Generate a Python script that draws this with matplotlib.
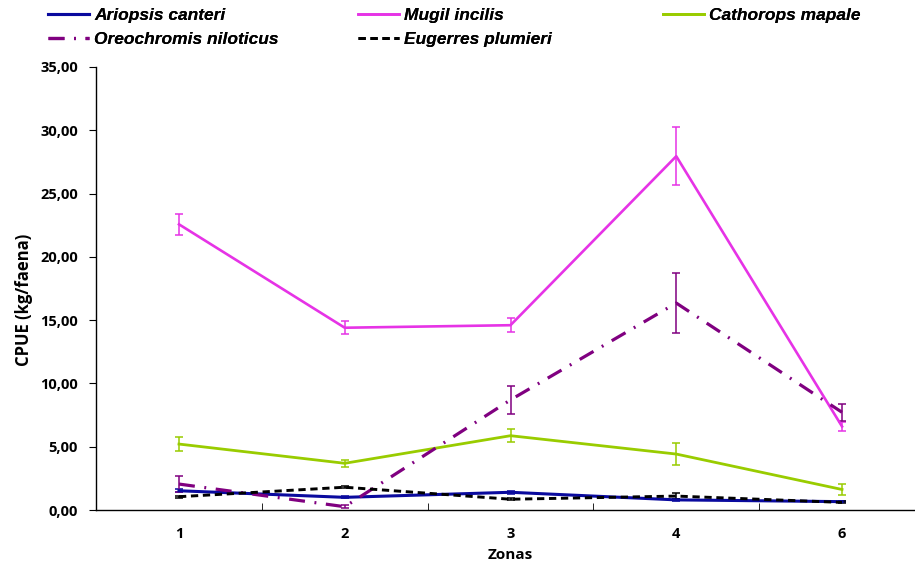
import matplotlib
matplotlib.use("Agg")
import matplotlib.pyplot as plt
from matplotlib.lines import Line2D
from matplotlib.ticker import FuncFormatter, MultipleLocator

zonas = ["1", "2", "3", "4", "6"]

ariopsis = [1.52, 1.00, 1.40, 0.80, 0.66]
ariopsis_err = [0.10, 0.08, 0.10, 0.08, 0.06]
mugil = [22.57, 14.40, 14.60, 27.95, 6.60]
mugil_err = [0.83, 0.50, 0.57, 2.30, 0.35]
cathorops = [5.21, 3.69, 5.87, 4.42, 1.62]
cathorops_err = [0.55, 0.27, 0.50, 0.85, 0.45]
oreochromis = [2.05, 0.26, 8.70, 16.35, 7.72]
oreochromis_err = [0.62, 0.10, 1.08, 2.40, 0.65]
eugerres = [1.05, 1.80, 0.85, 1.10, 0.60]
eugerres_err = [0.08, 0.10, 0.08, 0.27, 0.08]

names = ["Ariopsis canteri", "Mugil incilis", "Cathorops mapale",
         "Oreochromis niloticus", "Eugerres plumieri"]

fig = plt.figure(figsize=(9.15, 5.63), dpi=100)
ax = fig.add_axes([96.1 / 915, 53 / 563, 828.8 / 915, 443 / 563])

x = list(range(len(zonas)))

styles = [
    dict(color="#0A0A9E", lw=2.2, ls="-"),
    dict(color="#E633E6", lw=1.9, ls="-"),
    dict(color="#99CC00", lw=2.0, ls="-"),
    dict(color="#800080", lw=2.3, ls=(0, (5, 3, 0.6, 3))),
    dict(color="#000000", lw=2.1, ls=(0, (2.5, 1.6))),
]
series = [(ariopsis, ariopsis_err), (mugil, mugil_err), (cathorops, cathorops_err),
          (oreochromis, oreochromis_err), (eugerres, eugerres_err)]

handles = []
for (vals, errs), st, nm in zip(series, styles, names):
    ax.errorbar(x, vals, yerr=errs, color=st["color"], lw=st["lw"], ls=st["ls"],
                elinewidth=1.1, capsize=2.6, capthick=1.1)
    handles.append(Line2D([], [], color=st["color"], lw=st["lw"], ls=st["ls"]))

ax.set_xlim(-0.5, len(zonas) - 0.5)
ax.set_ylim(0, 35)
ax.set_xticks(x)
ax.set_xticklabels(zonas)
ax.set_xticks([i + 0.5 for i in x], minor=True)
ax.tick_params(axis="x", which="major", length=0, pad=12)
ax.tick_params(axis="x", which="minor", length=5, direction="in")
ax.yaxis.set_major_locator(MultipleLocator(5))
ax.yaxis.set_major_formatter(FuncFormatter(lambda v, p: f"{v:.2f}".replace(".", ",")))
ax.tick_params(axis="y", length=5, direction="out", pad=8)
for lab in ax.get_xticklabels() + ax.get_yticklabels():
    lab.set_fontfamily("Open Sans")
    lab.set_fontweight("bold")
    lab.set_fontsize(10.5)
ax.spines["top"].set_visible(False)
ax.spines["right"].set_visible(False)
ax.spines["left"].set_linewidth(1.0)
ax.spines["bottom"].set_linewidth(1.0)

ax.set_xlabel("Zonas", fontfamily="Open Sans", fontweight="bold", fontsize=11, labelpad=5)
ax.set_ylabel("CPUE (kg/faena)", fontfamily="Open Sans", fontweight="bold", fontsize=12)
ax.yaxis.set_label_coords((33 - 96.1) / 828.8, (510 - 300) / 443)

leg_font = dict(family="Liberation Sans", weight="bold", style="italic", size=12.5)
cols = [([handles[0], handles[3]], [names[0], names[3]], 48),
        ([handles[1], handles[4]], [names[1], names[4]], 358),
        ([handles[2]], [names[2]], 663)]
for hs, ls, px in cols:
    lg = fig.legend(hs, ls, loc="upper left", bbox_to_anchor=(px / 915, 1 - 8 / 563),
                    frameon=False, prop=leg_font, handlelength=2.35, handletextpad=0.3,
                    borderpad=0, labelspacing=0.5, borderaxespad=0)
    fig.add_artist(lg)

fig.savefig("out.png", dpi=100)
